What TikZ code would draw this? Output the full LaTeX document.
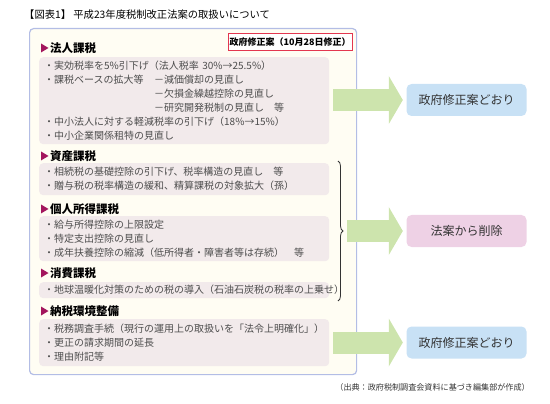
\documentclass[tikz,border=0pt]{standalone}
\usepackage{fontspec}
\setmainfont{Noto Sans CJK JP}
\usepackage{xcolor}
\usetikzlibrary{arrows.meta,positioning,decorations.pathreplacing}

\definecolor{panelfill}{HTML}{FFFDF3}
\definecolor{panelline}{HTML}{B3BDE5}
\definecolor{itembg}{HTML}{F2EAEB}
\definecolor{itemtext}{HTML}{4D4D4D}
\definecolor{secmark}{HTML}{A3165D}
\definecolor{arrowgreen}{HTML}{CDE4AD}
\definecolor{resblue}{HTML}{C8E1F5}
\definecolor{respink}{HTML}{EED1E5}
\definecolor{draftred}{HTML}{E3374F}
\definecolor{restext}{HTML}{333333}

\begin{document}
\begin{tikzpicture}[
    x=1pt, y=-1pt,
    panel/.style={
        rectangle,
        rounded corners=4pt,
        draw=panelline,
        line width=1.2pt,
        fill=panelfill,
        inner sep=0pt,
        anchor=north west
    },
    sechead/.style={
        anchor=west,
        inner sep=0pt,
        font=\fontsize{11.5}{12}\selectfont\bfseries
    },
    itembox/.style={
        rectangle,
        rounded corners=4pt,
        fill=itembg,
        text width=280pt,
        inner xsep=5pt,
        inner ysep=0pt,
        align=left,
        anchor=north west,
        text=itemtext,
        font=\fontsize{10}{14}\selectfont
    },
    draftbox/.style={
        rectangle,
        draw=draftred,
        line width=0.9pt,
        fill=white,
        minimum width=124pt,
        minimum height=17pt,
        inner sep=0pt,
        anchor=north east,
        font=\fontsize{9}{9}\selectfont\bfseries
    },
    resultbox/.style={
        rectangle,
        rounded corners=5pt,
        minimum width=120pt,
        minimum height=32pt,
        text=restext,
        font=\fontsize{12}{12}\selectfont
    },
    flowarrow/.style={
        draw=arrowgreen,
        line width=22pt,
        -{Triangle[length=14pt,width=48pt,line width=0pt]},
        shorten >=3.5pt
    }
]
\useasboundingbox (0,0) rectangle (550,404);

\node (title) [anchor=west, inner sep=0pt, font=\fontsize{10.3}{10.3}\selectfont] at (24,15) {【図表1】\ 平成23年度税制改正法案の取扱いについて};

\node (panel) [panel, minimum width=327pt, minimum height=346pt] at (29,28) {};
\node (draft) [draftbox] at (352.5,33) {政府修正案（10月28日修正）};

% section headers
\node (hdcorp) [sechead] at (50,48) {法人課税};
\node (hdasset) [sechead] at (50,156) {資産課税};
\node (hdincome) [sechead] at (50,209) {個人所得課税};
\node (hdconsume) [sechead] at (50,273) {消費課税};
\node (hdadmin) [sechead] at (50,311) {納税環境整備};
\foreach \h in {hdcorp,hdasset,hdincome,hdconsume,hdadmin}
    \fill[secmark] (\h.west) ++(-9,-4.5) -- ++(7.5,4.5) -- ++(-7.5,4.5) -- cycle;

% item boxes
\node (itcorp) [itembox, minimum height=87pt] at (39,57) {%
    ・実効税率を5\%引下げ（法人税率 30\%→25.5\%）\\
    \makebox[110pt][l]{・課税ベースの拡大等}－減価償却の見直し\\
    \hspace*{110pt}－欠損金繰越控除の見直し\\
    \hspace*{110pt}－研究開発税制の見直し　等\\
    ・中小法人に対する軽減税率の引下げ（18\%→15\%）\\
    ・中小企業関係租特の見直し};
\node (itasset) [itembox, minimum height=32pt] at (39,163) {%
    ・相続税の基礎控除の引下げ、税率構造の見直し　等\\
    ・贈与税の税率構造の緩和、精算課税の対象拡大（孫）};
\node (itincome) [itembox, minimum height=45pt] at (39,216) {%
    ・給与所得控除の上限設定\\
    ・特定支出控除の見直し\\
    ・成年扶養控除の縮減（低所得者・障害者等は存続）　等};
\node (itconsume) [itembox, minimum height=16pt] at (39,282) {%
    ・地球温暖化対策のための税の導入（石油石炭税の税率の上乗せ）};
\node (itadmin) [itembox, minimum height=47pt] at (39,319) {%
    ・税務調査手続（現行の運用上の取扱いを「法令上明確化」）\\
    ・更正の請求期間の延長\\
    ・理由附記等};

% results
\node (reskeep) [resultbox, fill=resblue] at (466.5,100) {政府修正案どおり};
\node (resdel) [resultbox, fill=respink] at (466.5,231) {法案から削除};
\node (reskeepb) [resultbox, fill=resblue] at (466.5,342.5) {政府修正案どおり};

\coordinate (brtop) at (338,161);
\coordinate (brbot) at (338,301);
\draw[decorate, decoration={brace, amplitude=5pt}, draw=black!80, line width=0.8pt] (brtop) -- (brbot);

\coordinate (corpfrom) at (333,100);
\coordinate (delfrom) at (347,231);
\coordinate (adminfrom) at (333,342.5);
\draw [flowarrow] (corpfrom) -- (reskeep.west);
\draw [flowarrow] (delfrom) -- (resdel.west);
\draw [flowarrow] (adminfrom) -- (reskeepb.west);

\node (source) [anchor=east, inner sep=0pt, font=\fontsize{8.1}{8.1}\selectfont, text=restext] at (530,387) {（出典：政府税制調査会資料に基づき編集部が作成）};
\end{tikzpicture}
\end{document}
